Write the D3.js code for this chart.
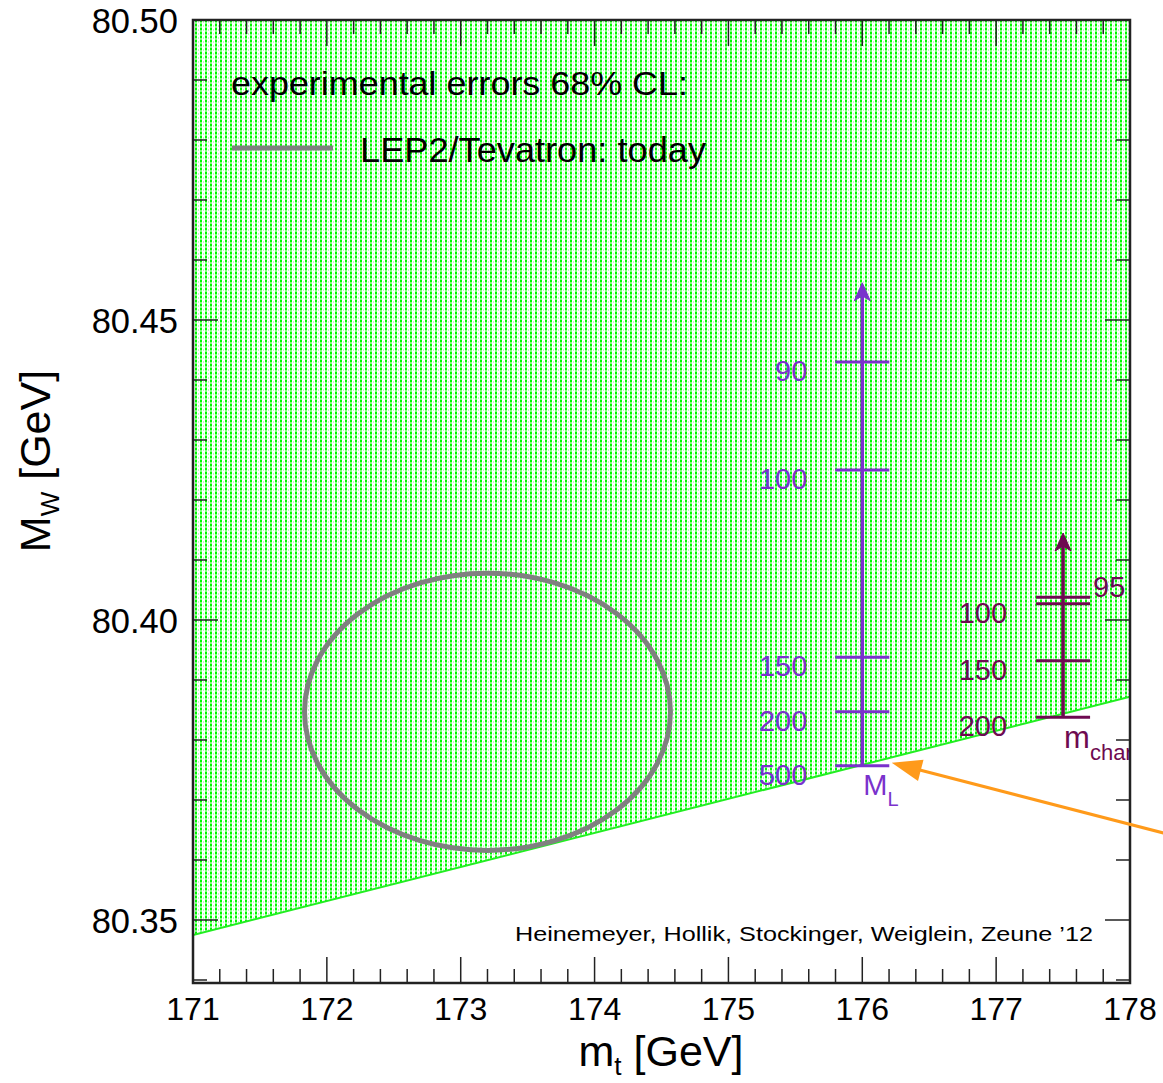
<!DOCTYPE html>
<html>
<head>
<meta charset="utf-8">
<script src="https://cdn.jsdelivr.net/npm/d3@7"></script>
<style>
  body { margin: 0; background: white; }
  text { font-family: "Liberation Sans", Arial, sans-serif; }
</style>
</head>
<body>
<svg id="chart" width="1163" height="1083"></svg>
<script>
// data
var xTicks = [171, 172, 173, 174, 175, 176, 177, 178];
var yTicks = [80.35, 80.40, 80.45, 80.50];

// lower edge of the allowed (green) band
var bandEdge = [[171, 80.3475], [178, 80.3872]];

// experimental ellipse: centre and half widths
var ellipse = { mt: 173.2, mw: 80.3847, dmt: 1.367, dmw: 0.0231 };

// M_L scan (purple)
var mlX = 176, mlTip = 80.4562;
var mlMasses = ["90", "100", "150", "200", "500"];
var mlMW = [80.4430, 80.4250, 80.3938, 80.3847, 80.3757];

// chargino scan (maroon)
var mcX = 177.5, mcTip = 80.4145;
var mcMasses = ["95", "100", "150", "200"];
var mcMW = [80.4038, 80.4027, 80.3932, 80.3838];

// orange pointer
var pointer = [[178.25, 80.3645], [176.22, 80.3762]];

var svg = d3.select("#chart");
var pLeft = 193, pRight = 1130, pTop = 20, pBottom = 983;

var x = d3.scaleLinear().domain([171, 178]).range([pLeft, pRight]);
var y = d3.scaleLinear().domain([80.3395, 80.50]).range([pBottom, pTop]);

var defs = svg.append("defs");
var pat = defs.append("pattern")
    .attr("id", "dots")
    .attr("patternUnits", "userSpaceOnUse")
    .attr("width", 5).attr("height", 4);
pat.append("rect").attr("width", 5).attr("height", 4).attr("fill", "white");
pat.append("rect").attr("x", 0).attr("y", 0).attr("width", 2).attr("height", 2).attr("fill", "#00f800");
pat.append("rect").attr("x", 0).attr("y", 2).attr("width", 2).attr("height", 2).attr("fill", "#80ff80");
pat.append("rect").attr("x", 3).attr("y", 1).attr("width", 1).attr("height", 2).attr("fill", "#b8ffb8");

defs.append("clipPath").attr("id", "plotClip")
  .append("rect").attr("x", pLeft).attr("y", pTop).attr("width", pRight - pLeft).attr("height", pBottom - pTop);

var g = svg.append("g").attr("clip-path", "url(#plotClip)");

// green band
var band = bandEdge.concat([[178, 80.50], [171, 80.50]]);
g.append("path")
    .attr("d", d3.line().x(d => x(d[0])).y(d => y(d[1]))(band) + "Z")
    .attr("fill", "url(#dots)");
g.append("line")
    .attr("x1", x(bandEdge[0][0])).attr("y1", y(bandEdge[0][1]))
    .attr("x2", x(bandEdge[1][0])).attr("y2", y(bandEdge[1][1]))
    .attr("stroke", "#22ee22").attr("stroke-width", 2);

// ellipse
g.append("ellipse")
    .attr("cx", x(ellipse.mt)).attr("cy", y(ellipse.mw))
    .attr("rx", x(ellipse.mt + ellipse.dmt) - x(ellipse.mt))
    .attr("ry", y(ellipse.mw) - y(ellipse.mw + ellipse.dmw))
    .attr("fill", "none").attr("stroke", "#808080").attr("stroke-width", 5);

// scan arrows
// side: -1 label left of the tick (below it), +1 label right of the tick
function scan(xv, tip, mw, labels, col, labelSide, leftGap) {
    var xc = x(xv);
    var bot = d3.min(mw);
    g.append("line")
        .attr("x1", xc).attr("x2", xc)
        .attr("y1", y(bot)).attr("y2", y(tip) + 6)
        .attr("stroke", col).attr("stroke-width", 3.5);
    g.append("path")
        .attr("d", "M" + xc + "," + y(tip) + " l-8,18 l8,-5 l8,5 Z")
        .attr("fill", col).attr("stroke", col).attr("stroke-width", 1);
    mw.forEach(function(v, i) {
        g.append("line")
            .attr("x1", xc - 27).attr("x2", xc + 27)
            .attr("y1", y(v)).attr("y2", y(v))
            .attr("stroke", col).attr("stroke-width", 3);
        var side = labelSide(i);
        g.append("text")
            .attr("x", side > 0 ? xc + 30 : xc - leftGap)
            .attr("y", y(v) + (side > 0 ? 0 : 19))
            .attr("text-anchor", side > 0 ? "start" : "end")
            .attr("font-size", 29)
            .attr("fill", col)
            .text(labels[i]);
    });
}
var purple = "#7a32cc", maroon = "#6e0a50";
scan(mlX, mlTip, mlMW, mlMasses, purple, i => -1, 55);
scan(mcX, mcTip, mcMW, mcMasses, maroon, i => (i == 0 ? 1 : -1), 56);

var mlLab = g.append("text")
    .attr("x", x(mlX) + 1).attr("y", y(d3.min(mlMW)) + 29)
    .attr("font-size", 29).attr("fill", purple);
mlLab.append("tspan").text("M");
mlLab.append("tspan").attr("font-size", 20).attr("dy", 11).text("L");

var mcLab = g.append("text")
    .attr("x", x(mcX) + 1).attr("y", y(d3.min(mcMW)) + 31)
    .attr("font-size", 31).attr("fill", maroon);
mcLab.append("tspan").text("m");
mcLab.append("tspan").attr("font-size", 22).attr("dy", 12).text("char");

// legend
g.append("text")
    .attr("x", 231).attr("y", 95)
    .attr("font-size", 34)
    .attr("textLength", 457).attr("lengthAdjust", "spacingAndGlyphs")
    .text("experimental errors 68% CL:");
g.append("line")
    .attr("x1", 232).attr("x2", 333).attr("y1", 148).attr("y2", 148)
    .attr("stroke", "#808080").attr("stroke-width", 5);
g.append("text")
    .attr("x", 360).attr("y", 162)
    .attr("font-size", 35)
    .attr("textLength", 346).attr("lengthAdjust", "spacingAndGlyphs")
    .text("LEP2/Tevatron: today");

// credit
g.append("text")
    .attr("x", 515).attr("y", 941)
    .attr("font-size", 21)
    .attr("textLength", 578).attr("lengthAdjust", "spacingAndGlyphs")
    .text("Heinemeyer, Hollik, Stockinger, Weiglein, Zeune \u201912");

// frame and ticks
var axisCol = "#222";
var xMinor = d3.range(171, 178.001, 0.2);
var yMinor = d3.range(80.34, 80.5001, 0.01);

xMinor.forEach(function(v) {
    var major = Math.abs(v - Math.round(v)) < 1e-6;
    var len = major ? 26 : 14;
    svg.append("line").attr("x1", x(v)).attr("x2", x(v)).attr("y1", pBottom).attr("y2", pBottom - len)
        .attr("stroke", axisCol).attr("stroke-width", 1.5);
    svg.append("line").attr("x1", x(v)).attr("x2", x(v)).attr("y1", pTop).attr("y2", pTop + len)
        .attr("stroke", axisCol).attr("stroke-width", 1.5);
});
yMinor.forEach(function(v) {
    if (y(v) > pBottom + 0.5) return;
    var major = Math.abs(v * 20 - Math.round(v * 20)) < 1e-6;
    var len = major ? 25 : 14;
    svg.append("line").attr("x1", pLeft).attr("x2", pLeft + len).attr("y1", y(v)).attr("y2", y(v))
        .attr("stroke", axisCol).attr("stroke-width", 1.5);
    svg.append("line").attr("x1", pRight).attr("x2", pRight - len).attr("y1", y(v)).attr("y2", y(v))
        .attr("stroke", axisCol).attr("stroke-width", 1.5);
});

svg.append("rect")
    .attr("x", pLeft).attr("y", pTop).attr("width", pRight - pLeft).attr("height", pBottom - pTop)
    .attr("fill", "none").attr("stroke", axisCol).attr("stroke-width", 2.5);

// tick labels
svg.selectAll(".xl").data(xTicks).enter().append("text")
    .attr("x", d => x(d)).attr("y", 1020)
    .attr("text-anchor", "middle").attr("font-size", 32)
    .text(d => d);
svg.selectAll(".yl").data(yTicks).enter().append("text")
    .attr("x", 178).attr("y", d => y(d) + 12.5)
    .attr("text-anchor", "end").attr("font-size", 34.5)
    .text(d => d.toFixed(2));

// axis titles
var xt = svg.append("text")
    .attr("x", 661).attr("y", 1066)
    .attr("text-anchor", "middle").attr("font-size", 43);
xt.append("tspan").text("m");
xt.append("tspan").attr("font-size", 26).attr("dy", 9).text("t");
xt.append("tspan").attr("dy", -9).text(" [GeV]");

var yt = svg.append("text")
    .attr("transform", "translate(50,461) rotate(-90)")
    .attr("text-anchor", "middle").attr("font-size", 43);
yt.append("tspan").text("M");
yt.append("tspan").attr("font-size", 26).attr("dy", 9).text("W");
yt.append("tspan").attr("dy", -9).text(" [GeV]");

// orange pointer
var px0 = x(pointer[0][0]), py0 = y(pointer[0][1]);
var px1 = x(pointer[1][0]), py1 = y(pointer[1][1]);
var ang = Math.atan2(py1 - py0, px1 - px0);
svg.append("line")
    .attr("x1", px0).attr("y1", py0)
    .attr("x2", px1 - 20 * Math.cos(ang)).attr("y2", py1 - 20 * Math.sin(ang))
    .attr("stroke", "#ff9a1a").attr("stroke-width", 3);
svg.append("path")
    .attr("d", "M0,0 L-30,-11 L-30,11 Z")
    .attr("transform", "translate(" + px1 + "," + py1 + ") rotate(" + (ang * 180 / Math.PI) + ")")
    .attr("fill", "#ff9a1a");
</script>
</body>
</html>
